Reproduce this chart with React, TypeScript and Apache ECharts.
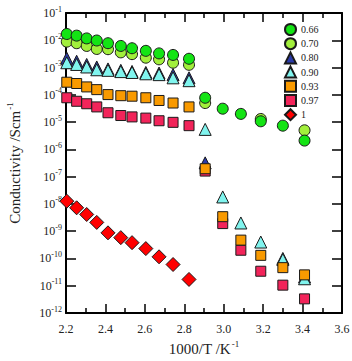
import React, { useEffect, useRef } from "react";
import * as echarts from "echarts";

// x positions (1000/T, K^-1)
const xLow = [2.204, 2.254, 2.305, 2.356, 2.413, 2.478, 2.535, 2.605, 2.672, 2.743, 2.824];
const xHigh = [2.906, 2.995, 3.087, 3.188, 3.3, 3.41];

// conductivity values (S/cm); null = not visible
const s066Low = [1.7e-2, 1.48e-2, 1.17e-2, 9.8e-3, 7.8e-3, 6.2e-3, 5.1e-3, 4.1e-3, 3.3e-3, 2.9e-3, 2.1e-3];
const s066High = [7.8e-5, 3.1e-5, 2.0e-5, 1.07e-5, 7.4e-6, 2.1e-6];
const s070Low = [8.9e-3, 7.8e-3, 6.2e-3, 4.8e-3, 4.7e-3, 3.6e-3, 3.1e-3, 2.3e-3, 2.0e-3, 1.5e-3, 1.26e-3];
const s070High = [5.0e-5, null, null, 1.3e-5, null, 5.0e-6];
const s080Low = [2.2e-3, 1.7e-3, 1.3e-3, 1.05e-3, 8.9e-4, 7.9e-4, 7.2e-4, 6.6e-4, 6.3e-4, 5.5e-4, 4.2e-4];
const s080High = [3.2e-7, null, null, null, 1.0e-10, 2.1e-11];
const s090Low = [1.5e-3, 1.3e-3, 1.05e-3, 8.3e-4, 7.9e-4, 7.1e-4, 6.6e-4, 5.9e-4, 5.5e-4, 4.2e-4, 3.3e-4];
const s090High = [5.4e-6, 1.8e-8, 2.0e-9, 4.0e-10, 9.1e-11, 1.8e-11];
const s093Low = [2.9e-4, 2.6e-4, 1.95e-4, 1.55e-4, 1.02e-4, 9.3e-5, 8.9e-5, 7.8e-5, 6.2e-5, 5.0e-5, 3.6e-5];
const s093High = [1.95e-7, 3.4e-9, 4.7e-10, 1.3e-10, 4.6e-11, 2.5e-11];
const s097Low = [7.8e-5, 5.8e-5, 4.7e-5, 3.6e-5, 2.2e-5, 1.74e-5, 1.55e-5, 1.4e-5, 1.12e-5, 9.8e-6, 7.4e-6];
const s097High = [1.6e-7, 1.9e-9, 2.0e-10, 3.4e-11, 1.05e-11, 3.3e-12];
const s1Low = [1.26e-8, 7.2e-9, 4.1e-9, 2.1e-9, 8.7e-10, 5.8e-10, 3.8e-10, 2.3e-10, 1.15e-10, 6.0e-11, 1.7e-11];

const legendNames = ["0.66", "0.70", "0.80", "0.90", "0.93", "0.97", "1"];

const font = "'Liberation Serif', 'Times New Roman', serif";

function pairs(lowV: (number | null)[], highV: (number | null)[]) {
  const out: [number, number][] = [];
  lowV.forEach((v, i) => { if (v != null) out.push([xLow[i], v]); });
  highV.forEach((v, i) => { if (v != null) out.push([xHigh[i], v]); });
  return out;
}

export default function App() {
  const ref = useRef<HTMLDivElement>(null);
  useEffect(() => {
    const chart = echarts.init(ref.current!, null, { renderer: "svg" });
    const mk = (name: string, data: [number, number][], symbol: string, size: number, color: string) => ({
      name,
      type: "scatter",
      data,
      symbol,
      symbolSize: size,
      itemStyle: { color, borderColor: "#1a1a1a", borderWidth: 1, opacity: 1 },
      emphasis: { disabled: true },
    });
    const series = [
      mk("1", pairs(s1Low, []), "diamond", 14, "#ff0000"),
      mk("0.97", pairs(s097Low, s097High), "rect", 10, "#f2245a"),
      mk("0.80", pairs(s080Low, s080High), "triangle", 12, "#2a3aa8"),
      mk("0.90", pairs(s090Low, s090High), "triangle", 12, "#80f4ee"),
      mk("0.93", pairs(s093Low, s093High), "rect", 10, "#f99a00"),
      mk("0.70", pairs(s070Low, s070High), "circle", 11, "#a2ef3c"),
      mk("0.66", pairs(s066Low, s066High), "circle", 11, "#14e414"),
    ];
    const axisLine = { show: true, onZero: false, lineStyle: { color: "#000", width: 2 } };
    chart.setOption({
      animation: false,
      backgroundColor: "#fff",
      grid: { left: 66, right: 10, top: 13, bottom: 48, containLabel: false, outerBoundsMode: "none" },
      legend: {
        data: legendNames,
        orient: "vertical",
        left: 279,
        top: 18,
        height: 160,
        z: 10,
        itemWidth: 11,
        itemHeight: 11,
        itemGap: 1.2,
        textStyle: { fontFamily: font, fontSize: 10, color: "#222" },
        selectedMode: false,
      },
      xAxis: [
        {
          type: "value",
          min: 2.2,
          max: 3.6,
          interval: 0.2,
          position: "bottom",
          axisLine,
          axisTick: { inside: true, length: 9, lineStyle: { width: 1.5, color: "#000" } },
          minorTick: { show: true, splitNumber: 2, length: 5, lineStyle: { width: 1.5, color: "#000" } },
          splitLine: { show: false },
          axisLabel: {
            fontFamily: font,
            fontSize: 12,
            color: "#222",
            margin: 10,
            formatter: (v: number) => v.toFixed(1),
          },
          name: "{a|1000/T /K}{s|-1}",
          nameLocation: "middle",
          nameGap: 16,
          nameTextStyle: {
            rich: {
              a: { fontFamily: font, fontSize: 15, color: "#222" },
              s: { fontFamily: font, fontSize: 9, color: "#222", padding: [0, 0, 10, 1] },
            },
          },
        },
        {
          type: "value",
          min: 2.2,
          max: 3.6,
          interval: 0.2,
          position: "top",
          axisLine,
          axisTick: { inside: true, length: 9, lineStyle: { width: 1.5, color: "#000" } },
          minorTick: { show: true, splitNumber: 2, length: 5, lineStyle: { width: 1.5, color: "#000" } },
          splitLine: { show: false },
          axisLabel: { show: false },
        },
      ],
      yAxis: [
        {
          type: "log",
          logBase: 10,
          min: 1e-12,
          max: 1e-1,
          interval: 1,
          position: "left",
          axisLine,
          axisTick: { inside: true, length: 10, lineStyle: { width: 1.5, color: "#000" } },
          splitLine: { show: false },
          axisLabel: {
            margin: 4,
            formatter: (v: number) => `{b|10}{s|${Math.round(Math.log10(v))}}`,
            rich: {
              b: { fontFamily: font, fontSize: 12, color: "#222" },
              s: { fontFamily: font, fontSize: 8, color: "#222", padding: [0, 0, 8, 0] },
            },
          },
          name: "{a|Conductivity /Scm}{s|-1}",
          nameLocation: "middle",
          nameRotate: 90,
          nameGap: 42,
          nameTextStyle: {
            rich: {
              a: { fontFamily: font, fontSize: 15, color: "#222" },
              s: { fontFamily: font, fontSize: 9, color: "#222", padding: [0, 0, 10, 1] },
            },
          },
        },
        {
          type: "log",
          logBase: 10,
          min: 1e-12,
          max: 1e-1,
          interval: 1,
          position: "right",
          axisLine,
          axisTick: { inside: true, length: 10, lineStyle: { width: 1.5, color: "#000" } },
          splitLine: { show: false },
          axisLabel: { show: false },
        },
      ],
      series,
    });
    return () => chart.dispose();
  }, []);
  return <div ref={ref} style={{ width: 352, height: 361, position: "fixed", left: 0, top: 0 }} />;
}
